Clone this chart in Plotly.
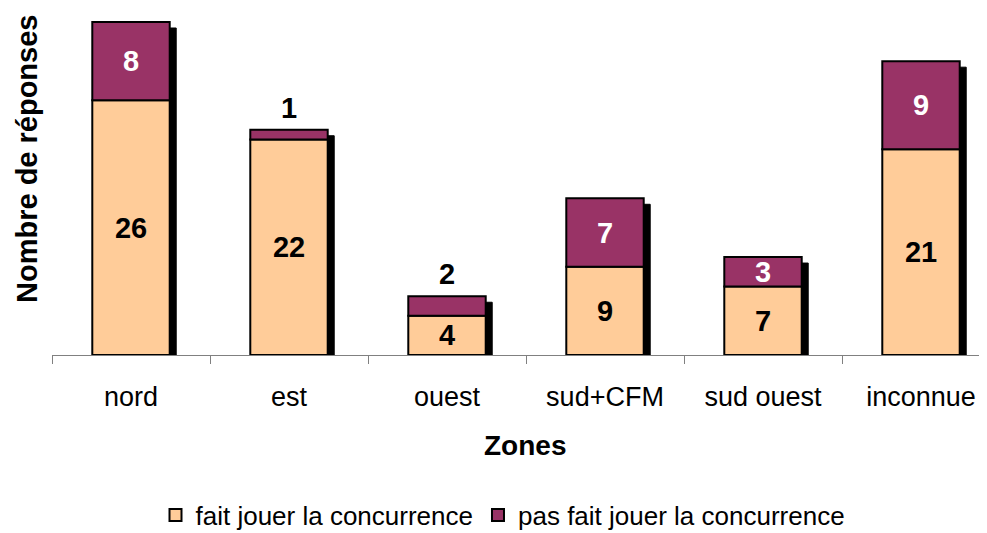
import plotly.graph_objects as go

categories = ["nord", "est", "ouest", "sud+CFM", "sud ouest", "inconnue"]
fait = [26, 22, 4, 9, 7, 21]
pas_fait = [8, 1, 2, 7, 3, 9]
series_names = ["fait jouer la concurrence", "pas fait jouer la concurrence"]

FONT = "Liberation Sans, Arial, sans-serif"
C_FAIT = "#FFCC99"
C_PAS = "#993366"
BODY = 8                      # default page body margin
W = 987 - BODY
H = 533 - BODY
ML, MT = 52 - BODY, 0
BASE_Y = 355 - BODY           # baseline position in figure pixels
MB = H - BASE_Y
PLOT_H = BASE_Y - MT
PLOT_W = W - ML
px_per_unit = 333.0 / 34.0
Y_MAX = PLOT_H / px_per_unit
cat_px = 158.0
bar_w = 0.49
shadow_dx = 6.5 / cat_px
shadow_dy = 6.0 / px_per_unit


def px(xp):
    return (xp - BODY - ML) / PLOT_W


def py(yp):
    return (BASE_Y - (yp - BODY)) / PLOT_H


totals = [a + b for a, b in zip(fait, pas_fait)]
small = [v <= 2 for v in pas_fait]

fig = go.Figure()

# drop shadow
fig.add_trace(go.Bar(
    x=categories, y=[t - shadow_dy for t in totals], base=[0] * len(categories),
    width=bar_w, offset=-bar_w / 2 + shadow_dx,
    marker=dict(color="black", line=dict(color="black", width=1)),
    showlegend=False, hoverinfo="skip",
))

fig.add_trace(go.Bar(
    x=categories, y=fait, base=[0] * len(categories), name=series_names[0],
    width=bar_w, offset=-bar_w / 2,
    marker=dict(color=C_FAIT, line=dict(color="black", width=2)),
    text=[f"<b>{v}</b>" for v in fait], textposition="inside", textangle=0,
    insidetextanchor="middle", constraintext="none",
    textfont=dict(family=FONT, size=29, color="black"),
))

fig.add_trace(go.Bar(
    x=categories, y=pas_fait, base=fait, name=series_names[1],
    width=bar_w, offset=-bar_w / 2,
    marker=dict(color=C_PAS, line=dict(color="black", width=2)),
    text=[f"<b>{v}</b>" for v in pas_fait],
    textposition=["none" if s else "inside" for s in small], textangle=0,
    insidetextanchor="middle", constraintext="none",
    textfont=dict(family=FONT, size=29, color="white"),
))

annotations = []
for c, t, v, s in zip(categories, totals, pas_fait, small):
    if s:
        annotations.append(dict(
            x=c, y=t, xref="x", yref="y", text=f"<b>{v}</b>", showarrow=False,
            yanchor="middle", yshift=22,
            font=dict(family=FONT, size=29, color="black"),
        ))

annotations.append(dict(
    x=px(27), y=py(159), xref="paper", yref="paper",
    text="<b>Nombre de réponses</b>", textangle=-90, showarrow=False,
    xanchor="center", yanchor="middle",
    font=dict(family=FONT, size=29, color="black"),
))
annotations.append(dict(
    x=px(525), y=py(445), xref="paper", yref="paper",
    text="<b>Zones</b>", showarrow=False, xanchor="center", yanchor="middle",
    font=dict(family=FONT, size=28, color="black"),
))

fig.update_layout(
    width=W, height=H,
    margin=dict(l=ML, r=0, t=MT, b=MB, pad=0, autoexpand=False),
    barmode="overlay",
    plot_bgcolor="white", paper_bgcolor="white",
    annotations=annotations,
    legend=dict(
        orientation="h", x=px(503), xanchor="center",
        y=py(515), yanchor="middle",
        font=dict(family=FONT, size=26, color="black"),
        itemwidth=30, tracegroupgap=0,
    ),
    xaxis=dict(
        type="category", range=[-0.5, -0.5 + PLOT_W / cat_px],
        showline=True, linecolor="#808080", linewidth=1,
        ticks="outside", tickson="boundaries", ticklen=8, tickcolor="#808080",
        showgrid=False, zeroline=False, automargin=False,
        tickfont=dict(family=FONT, size=27, color="black"),
        ticklabelstandoff=18,
    ),
    yaxis=dict(range=[0, Y_MAX], visible=False, showgrid=False, zeroline=False),
)

fig.write_html("out.html")
